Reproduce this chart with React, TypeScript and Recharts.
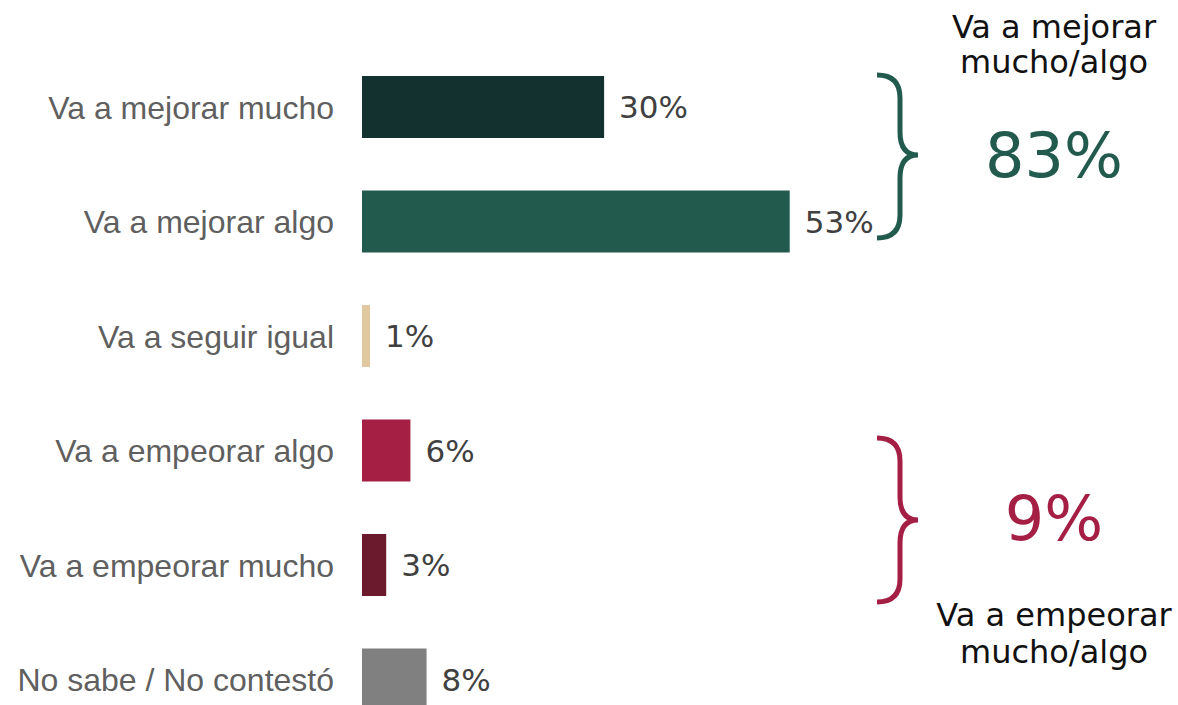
import React from 'react';
import { BarChart, Bar, XAxis, YAxis, Cell, LabelList } from 'recharts';

// Survey answers, top to bottom
const categories = [
  'Va a mejorar mucho',
  'Va a mejorar algo',
  'Va a seguir igual',
  'Va a empeorar algo',
  'Va a empeorar mucho',
  'No sabe / No contestó',
];
const values = [30, 53, 1, 6, 3, 8];
const barColors = ['#12312F', '#225B4D', '#E0C8A1', '#A51F44', '#6B1A2E', '#808080'];

const betterLabel = ['Va a mejorar', 'mucho/algo'];
const worseLabel = ['Va a empeorar', 'mucho/algo'];

const WIDTH = 1178;
const HEIGHT = 705;
const GREEN = '#225B4D';
const RED = '#A51F44';
const labelFont = '"Liberation Sans", Arial, sans-serif';
const valueFont = '"DejaVu Sans", sans-serif';

const data = categories.map((name, i) => ({ name, value: values[i] }));

const betterTotal = values[0] + values[1];
const worseTotal = values[3] + values[4];

export default function App() {
  return (
    <div
      style={{
        position: 'absolute',
        left: 0,
        top: 0,
        width: WIDTH,
        height: HEIGHT,
        overflow: 'hidden',
        background: '#fff',
      }}
    >
      <BarChart
        width={WIDTH}
        height={750}
        data={data}
        layout="vertical"
        margin={{ top: 50, right: 9, left: 0, bottom: 13 }}
      >
        <XAxis type="number" domain={[0, 100]} hide />
        <YAxis
          type="category"
          dataKey="name"
          width={362}
          axisLine={false}
          tickLine={false}
          tickSize={0}
          tickMargin={28}
          interval={0}
          tick={{ fill: '#5f5f5f', fontSize: 32, fontFamily: labelFont }}
        />
        <Bar dataKey="value" barSize={62} isAnimationActive={false}>
          {data.map((d, i) => (
            <Cell key={d.name} fill={barColors[i]} />
          ))}
          <LabelList
            dataKey="value"
            position="right"
            offset={15}
            formatter={(v: number) => `${v}%`}
            fill="#404040"
            fontSize={31}
            fontFamily={valueFont}
          />
        </Bar>
      </BarChart>

      {/* group summaries on the right */}
      <svg
        width={WIDTH}
        height={HEIGHT}
        style={{ position: 'absolute', left: 0, top: 0, pointerEvents: 'none' }}
      >
        <path
          d="M877,75 Q900,75 900,98 L900,132 Q900,155 918,155 Q900,155 900,178 L900,215 Q900,238 877,238"
          fill="none"
          stroke={GREEN}
          strokeWidth={5}
        />
        <path
          d="M877,438 Q900,438 900,461 L900,497 Q900,520 918,520 Q900,520 900,543 L900,579 Q900,602 877,602"
          fill="none"
          stroke={RED}
          strokeWidth={5}
        />
        <g fontFamily={valueFont} textAnchor="middle">
          <text x={1054} y={38} fontSize={32} fill="#111">{betterLabel[0]}</text>
          <text x={1054} y={73} fontSize={32} fill="#111">{betterLabel[1]}</text>
          <text x={1054} y={177} fontSize={62} fill={GREEN}>{betterTotal}%</text>
          <text x={1054} y={540} fontSize={62} fill={RED}>{worseTotal}%</text>
          <text x={1054} y={626} fontSize={32} fill="#111">{worseLabel[0]}</text>
          <text x={1054} y={663} fontSize={32} fill="#111">{worseLabel[1]}</text>
        </g>
      </svg>
    </div>
  );
}
